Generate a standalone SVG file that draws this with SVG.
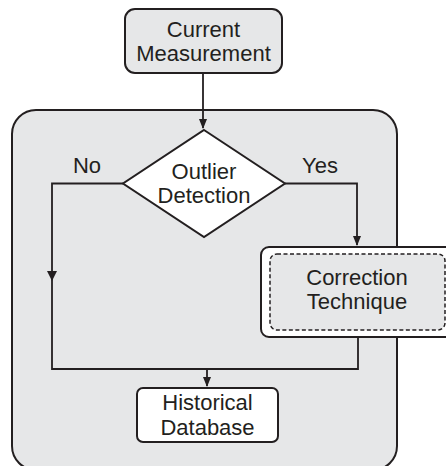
<svg xmlns="http://www.w3.org/2000/svg" width="446" height="466" viewBox="0 0 446 466">
<defs>
<marker id="arr" markerWidth="10" markerHeight="10" refX="9" refY="5" orient="auto" markerUnits="userSpaceOnUse">
<path d="M0,1 L10,5 L0,9 Z" fill="#231f20"/>
</marker>
<style>
text{font-family:"Liberation Sans",Arial,sans-serif;font-size:22px;fill:#231f20;text-anchor:middle}
.box{stroke:#231f20;stroke-width:2}
.conn{fill:none;stroke:#231f20;stroke-width:1.8}
</style>
</defs>
<rect x="0" y="0" width="446" height="466" fill="#ffffff"/>
<g id="container">
<rect x="12" y="110" width="385" height="360" rx="24" ry="24" fill="#e6e7e8" class="box"/>
</g>
<g id="connectors">
<path class="conn" d="M203,73 V128" marker-end="url(#arr)"/>
<path class="conn" d="M123,183.5 H52 V369 H358 V337"/>
<path d="M47,271 L57,271 L52,281 Z" fill="#231f20"/>
<path class="conn" d="M285,183.5 H357 V245" marker-end="url(#arr)"/>
<path class="conn" d="M207,369 V386" marker-end="url(#arr)"/>
</g>
<g id="current">
<rect x="125" y="9" width="157" height="64" rx="10" ry="10" fill="#e6e7e8" class="box"/>
<text x="203.5" y="37">Current</text>
<text x="203.5" y="61">Measurement</text>
</g>
<g id="outlier">
<path d="M204,130 L285,183.5 L204,237 L123,183.5 Z" fill="#ffffff" class="box"/>
<text x="204" y="179">Outlier</text>
<text x="204" y="203">Detection</text>
</g>
<g id="labels">
<text x="87" y="173">No</text>
<text x="320" y="173">Yes</text>
</g>
<g id="correction">
<rect x="261" y="247" width="195" height="90" rx="8" ry="8" fill="#ffffff" class="box"/>
<rect x="270" y="254" width="175" height="76" rx="7" ry="7" fill="#e6e7e8" stroke="#231f20" stroke-width="1.5" stroke-dasharray="4,2.5"/>
<text x="357" y="285">Correction</text>
<text x="357" y="309">Technique</text>
</g>
<g id="historical">
<rect x="137" y="388" width="141" height="54" rx="6" ry="6" fill="#ffffff" class="box"/>
<text x="207.5" y="410">Historical</text>
<text x="207.5" y="435">Database</text>
</g>
</svg>
